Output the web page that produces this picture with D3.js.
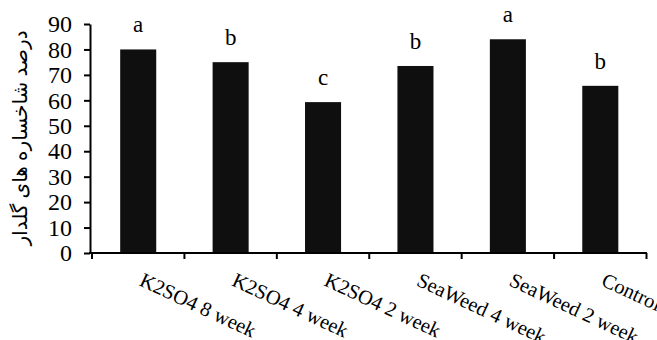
<!DOCTYPE html>
<html>
<head>
<meta charset="utf-8">
<script src="https://cdn.jsdelivr.net/npm/d3@7"></script>
<style>
  body { margin: 0; background: #fff; }
</style>
</head>
<body>
<div id="chart"></div>
<script>
var categories = ["K2SO4 8 week", "K2SO4 4 week", "K2SO4 2 week", "SeaWeed 4 week", "SeaWeed 2 week", "Control"];
var values = [80, 75, 59.3, 73.5, 84, 65.7];
var letters = ["a", "b", "c", "b", "a", "b"];
var yTicks = [0, 10, 20, 30, 40, 50, 60, 70, 80, 90];
var yTitle = "درصد شاخساره های گلدار";

var serif = "'Liberation Serif', 'Times New Roman', 'DejaVu Serif', serif";

function init() {
  var width = 657, height = 340;
  var svg = d3.select("#chart").append("svg")
    .attr("width", width)
    .attr("height", height);

  var x = d3.scaleBand()
    .domain(categories)
    .range([92, 646.5])
    .paddingInner(0.61)
    .paddingOuter(0.305);

  var y = d3.scaleLinear()
    .domain([0, 90])
    .range([253, 24]);

  // bars
  svg.selectAll("rect.bar")
    .data(values)
    .enter()
    .append("rect")
    .attr("class", "bar")
    .attr("x", function(d, i) { return x(categories[i]); })
    .attr("y", function(d) { return y(d); })
    .attr("width", x.bandwidth())
    .attr("height", function(d) { return y(0) - y(d); })
    .attr("fill", "#0f0f0f");

  // significance letters
  svg.selectAll("text.sig")
    .data(letters)
    .enter()
    .append("text")
    .attr("class", "sig")
    .attr("x", function(d, i) { return x(categories[i]) + x.bandwidth() / 2; })
    .attr("y", function(d, i) { return y(values[i]) - 17; })
    .attr("text-anchor", "middle")
    .attr("font-family", serif)
    .attr("font-size", 23)
    .text(function(d) { return d; });

  // y axis
  var yAxis = svg.append("g")
    .attr("transform", "translate(90,0)")
    .call(d3.axisLeft(y).tickValues(yTicks).tickSize(6).tickPadding(12).tickSizeOuter(0));
  yAxis.attr("font-family", serif).attr("font-size", 24);
  yAxis.select(".domain").attr("stroke-width", 2);
  yAxis.selectAll(".tick line").attr("stroke-width", 2);
  yAxis.selectAll(".tick text").attr("fill", "#000");

  // x axis: line with ticks at band edges
  svg.append("line")
    .attr("x1", 89).attr("x2", 647)
    .attr("y1", y(0)).attr("y2", y(0))
    .attr("stroke", "#000").attr("stroke-width", 2);

  var edges = categories.map(function(c) { return x(c) - x.step() * x.paddingInner() / 2; });
  edges.push(646.5);
  svg.selectAll("line.xtick")
    .data(edges)
    .enter()
    .append("line")
    .attr("class", "xtick")
    .attr("x1", function(d) { return d; })
    .attr("x2", function(d) { return d; })
    .attr("y1", y(0))
    .attr("y2", y(0) + 6)
    .attr("stroke", "#000").attr("stroke-width", 2);

  // x labels, rotated
  svg.selectAll("text.xlab")
    .data(categories)
    .enter()
    .append("text")
    .attr("class", "xlab")
    .attr("transform", function(d) {
      return "translate(" + (x(d) + x.bandwidth() / 2) + "," + 285 + ") rotate(25)";
    })
    .attr("text-anchor", "start")
    .attr("font-family", serif)
    .attr("font-size", 20.5)
    .text(function(d) { return d; });

  // y title
  svg.append("text")
    .attr("transform", "translate(27,138) rotate(-90)")
    .attr("text-anchor", "middle")
    .attr("font-family", "'Noto Sans', 'DejaVu Sans', sans-serif")
    .attr("font-size", 20)
    .attr("direction", "rtl")
    .text(yTitle);
}

window.onload = init;
</script>
</body>
</html>
